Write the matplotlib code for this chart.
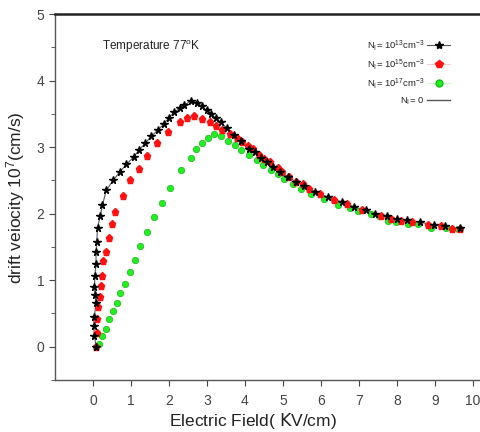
import matplotlib
matplotlib.use("Agg")
import matplotlib.pyplot as plt
from matplotlib.lines import Line2D
from matplotlib.ticker import MultipleLocator

plt.rcParams['font.family'] = ['Liberation Sans', 'DejaVu Sans']
plt.rcParams['mathtext.fontset'] = 'custom'
plt.rcParams['mathtext.rm'] = 'Liberation Sans'
plt.rcParams['mathtext.it'] = 'Liberation Sans'

# N_I = 1e13 (black stars)
e_13 = [0.08, 0.04, 0.02, 0.035, 0.08, 0.06, 0.04, 0.05, 0.08, 0.08, 0.10, 0.12, 0.19, 0.25,
        0.35, 0.53, 0.71, 0.88, 1.07, 1.22, 1.38, 1.53, 1.70, 1.87, 2.00, 2.13, 2.28, 2.40,
        2.57, 2.73, 2.87, 3.00, 3.12, 3.24, 3.37, 3.54, 3.71, 3.90, 4.11, 4.26, 4.42, 4.58,
        4.75, 4.93, 5.14, 5.34, 5.56, 5.85, 6.18, 6.57, 6.87, 7.19, 7.43, 7.73, 8.00, 8.26,
        8.62, 8.99, 9.27, 9.66]
v_13 = [0.00, 0.16, 0.31, 0.45, 0.65, 0.77, 0.90, 1.07, 1.25, 1.42, 1.58, 1.79, 1.96, 2.13,
        2.35, 2.50, 2.63, 2.74, 2.85, 2.96, 3.06, 3.16, 3.25, 3.35, 3.44, 3.52, 3.58, 3.63,
        3.69, 3.67, 3.61, 3.55, 3.49, 3.43, 3.37, 3.28, 3.18, 3.09, 2.97, 2.92, 2.84, 2.78,
        2.70, 2.63, 2.55, 2.48, 2.42, 2.33, 2.25, 2.17, 2.10, 2.05, 2.00, 1.96, 1.92, 1.90,
        1.87, 1.83, 1.81, 1.78]

# N_I = 1e15 (red)
e_15 = [0.08, 0.10, 0.10, 0.14, 0.18, 0.21, 0.24, 0.27, 0.34, 0.42, 0.50, 0.57, 0.78, 0.98,
        1.20, 1.43, 1.68, 1.97, 2.28, 2.47, 2.65, 2.87, 3.07, 3.25, 3.40, 3.60, 3.78, 3.93,
        4.08, 4.22, 4.36, 4.51, 4.66, 4.86, 4.99, 5.17, 5.34, 5.52, 5.70, 5.99, 6.34, 6.69,
        7.08, 7.59, 7.84, 8.12, 8.40, 8.81, 9.16, 9.46, 9.67]
v_15 = [0.00, 0.21, 0.42, 0.59, 0.75, 0.91, 1.06, 1.29, 1.43, 1.63, 1.85, 2.02, 2.27, 2.50,
        2.67, 2.86, 3.06, 3.22, 3.37, 3.43, 3.47, 3.42, 3.37, 3.32, 3.26, 3.19, 3.14, 3.08,
        3.02, 2.97, 2.88, 2.82, 2.77, 2.68, 2.62, 2.55, 2.47, 2.44, 2.37, 2.29, 2.20, 2.15,
        2.06, 1.96, 1.92, 1.89, 1.88, 1.83, 1.81, 1.77, 1.77]

# N_I = 1e17 (green)
e_17 = [0.17, 0.24, 0.34, 0.42, 0.52, 0.63, 0.72, 0.85, 0.97, 1.10, 1.25, 1.42, 1.60, 1.83,
        2.04, 2.33, 2.57, 2.71, 2.88, 3.02, 3.18, 3.38, 3.55, 3.73, 3.91, 4.11, 4.31, 4.49,
        4.68, 4.86, 5.03, 5.28, 5.48, 5.75, 6.08, 6.46, 6.78, 6.99, 7.31, 7.54, 7.78, 7.98,
        8.29, 8.56, 8.91, 9.30, 9.60]
v_17 = [0.04, 0.16, 0.27, 0.41, 0.53, 0.66, 0.81, 0.95, 1.13, 1.30, 1.52, 1.72, 1.95, 2.16,
        2.38, 2.65, 2.84, 2.97, 3.06, 3.13, 3.19, 3.16, 3.09, 3.03, 2.96, 2.88, 2.80, 2.73,
        2.66, 2.60, 2.52, 2.45, 2.37, 2.30, 2.22, 2.13, 2.08, 2.04, 2.00, 1.96, 1.89, 1.88,
        1.85, 1.84, 1.79, 1.79, 1.77]

labels = [r'N$_\mathregular{I}$= 10$^{\mathregular{13}}$cm$^{\mathregular{-3}}$',
          r'N$_\mathregular{I}$= 10$^{\mathregular{15}}$cm$^{\mathregular{-3}}$',
          r'N$_\mathregular{I}$= 10$^{\mathregular{17}}$cm$^{\mathregular{-3}}$',
          r'N$_\mathregular{I}$= 0']

W, H = 481, 432
fig = plt.figure(figsize=(W/100, H/100), dpi=100)
ax_left, ax_right, ax_top, ax_bot = 55, 486, 14, 380
ax = fig.add_axes([ax_left/W, 1 - ax_bot/H, (ax_right - ax_left)/W, (ax_bot - ax_top)/H])
aw, ah = ax_right - ax_left, ax_bot - ax_top

ax.plot(e_13, v_13, '-', color='#555555', lw=0.8, zorder=2)
ax.plot(e_17, v_17, 'o', color='#22ee22', mec='#11bb11', mew=0.5, ms=4.6, zorder=3)
ax.plot(e_15, v_15, 'p', color='#ff1111', mec='#ff1111', ms=5.2, zorder=4)
ax.plot(e_13, v_13, '*', color='black', ms=5.5, zorder=5)

ax.set_xlim(-1, 10.35)
ax.set_ylim(-0.5, 5)
ax.set_xticks(range(0, 11))
ax.set_yticks(range(0, 6))
ax.yaxis.set_minor_locator(MultipleLocator(0.5))
ax.tick_params(axis='both', which='both', direction='out', colors='#444444',
               labelcolor='#444444', labelsize=10)
ax.tick_params(axis='both', which='major', length=4)
ax.tick_params(axis='y', which='minor', length=3)
ax.tick_params(axis='x', pad=6)

for s in ['left', 'bottom']:
    ax.spines[s].set_color('#555555')
    ax.spines[s].set_linewidth(1.0)
ax.spines['top'].set_color('#222222')
ax.spines['top'].set_linewidth(1.8)
ax.spines['right'].set_visible(False)

ax.set_xlabel(r'Electric Field( $\mathregular{\mathsf{K}}$V/cm)', fontsize=12.5, color='#222222')
ax.set_ylabel(r'drift veiocity 10$^{\mathregular{7}}$(cm/s)', fontsize=12.5, color='#222222')
ax.xaxis.set_label_coords((253 - ax_left) / aw, -(411 - ax_bot) / ah)
ax.yaxis.set_label_coords(-(ax_left - 27) / aw, (ax_bot - 198) / ah)

fig.text(102/W, 1 - 47/H, r'Temperature 77$^{\mathregular{o}}$K', fontsize=8.5,
         color='#222222', va='center', ha='left')

handles = [Line2D([], [], color='#555555', lw=0.8, marker='*', mfc='black', mec='black', ms=6),
           Line2D([], [], color='#ffcccc', lw=0.8, marker='p', mfc='#ff1111', mec='#ff1111', ms=5.6),
           Line2D([], [], color='#ccffcc', lw=0.8, marker='o', mfc='#22ee22', mec='#11bb11', ms=5),
           Line2D([], [], color='#555555', lw=1.0)]
leg = fig.legend(handles, labels, loc='upper left', bbox_to_anchor=(367/W, 1 - 38/H),
                 frameon=False, fontsize=6.8, markerfirst=False, handlelength=2.4,
                 labelspacing=0.45, handletextpad=0.3, borderaxespad=0, borderpad=0)
for t in leg.get_texts():
    t.set_color('#222222')

fig.savefig('out.png', dpi=100)
